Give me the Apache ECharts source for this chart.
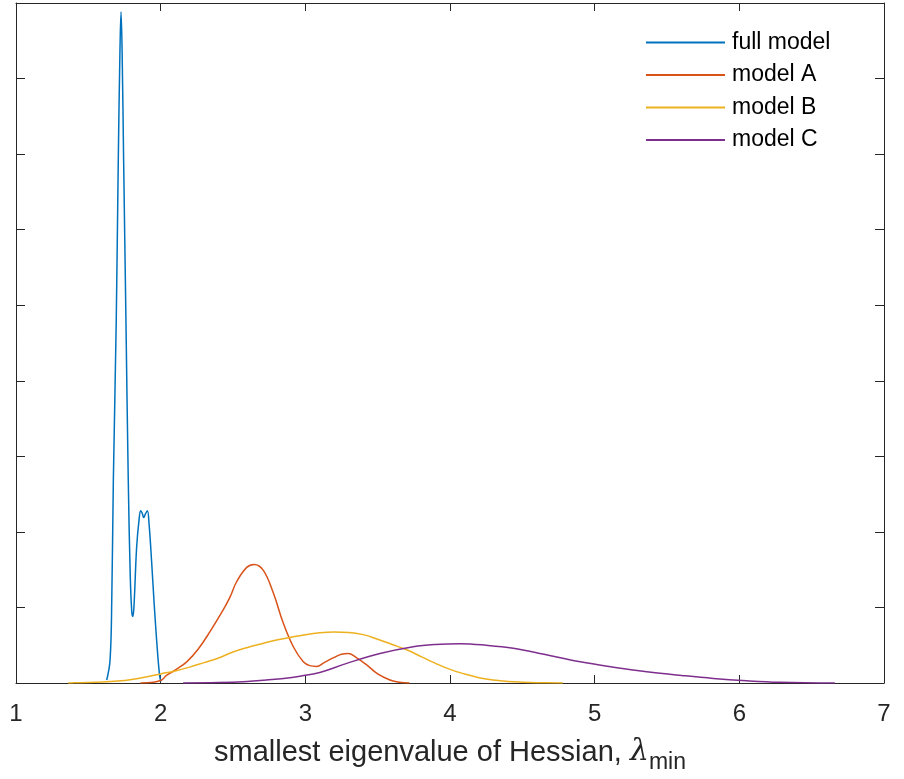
<!DOCTYPE html>
<html>
<head>
<meta charset="utf-8">
<script src="https://cdn.jsdelivr.net/npm/echarts@6/dist/echarts.min.js"></script>
<style>
  html, body { margin: 0; padding: 0; background: #fff; }
  #chart { width: 904px; height: 779px; }
</style>
</head>
<body>
<div id="chart"></div>
<script>
// density curves, [lambda_min, density]
const seriesNames = ['full model', 'model A', 'model B', 'model C']
const seriesColors = ['#0072BD', '#D95319', '#EDB120', '#7E2F8E']

const fullModel = [
  [1.627, 0.04], [1.65, 0.3], [1.662, 1.1], [1.673, 2.69], [1.693, 4.8], [1.707, 6.92],
  [1.718, 8.3], [1.726, 8.88], [1.734, 8.3], [1.744, 6.92], [1.76, 4.8], [1.776, 2.69],
  [1.79, 1.4], [1.8, 0.95], [1.807, 0.88], [1.815, 1.0], [1.834, 1.8], [1.85, 2.15],
  [1.862, 2.28], [1.872, 2.25], [1.883, 2.19], [1.895, 2.24], [1.908, 2.28], [1.92, 2.1],
  [1.938, 1.59], [1.955, 1.05], [1.972, 0.57], [1.985, 0.25], [1.995, 0.07], [2.002, 0.02]
]
const modelA = [
  [1.86, 0.0], [1.95, 0.01], [2.007, 0.04], [2.04, 0.1], [2.1, 0.17], [2.18, 0.28],
  [2.26, 0.45], [2.341, 0.68], [2.433, 0.97], [2.48, 1.14], [2.525, 1.34], [2.595, 1.53],
  [2.647, 1.57], [2.71, 1.49], [2.779, 1.19], [2.848, 0.79], [2.917, 0.48], [2.986, 0.28],
  [3.03, 0.23], [3.078, 0.22], [3.13, 0.27], [3.2, 0.34], [3.25, 0.38], [3.297, 0.39],
  [3.35, 0.34], [3.424, 0.24], [3.5, 0.12], [3.585, 0.04], [3.65, 0.01], [3.72, 0.0]
]
const modelB = [
  [1.36, 0.0], [1.4, 0.002], [1.5, 0.005], [1.6, 0.012], [1.7, 0.025], [1.8, 0.047],
  [1.9, 0.08], [2.0, 0.12], [2.1, 0.16], [2.2, 0.21], [2.3, 0.27], [2.4, 0.33],
  [2.5, 0.41], [2.6, 0.47], [2.7, 0.52], [2.8, 0.57], [2.9, 0.605], [3.0, 0.64],
  [3.1, 0.665], [3.2, 0.675], [3.3, 0.67], [3.4, 0.64], [3.5, 0.58], [3.6, 0.51],
  [3.7, 0.44], [3.8, 0.35], [3.9, 0.26], [4.0, 0.18], [4.1, 0.12], [4.2, 0.07],
  [4.3, 0.04], [4.4, 0.02], [4.5, 0.01], [4.6, 0.004], [4.78, 0.0]
]
const modelC = [
  [2.155, 0.0], [2.4, 0.005], [2.6, 0.02], [2.73, 0.04], [2.85, 0.06], [2.963, 0.09],
  [3.1, 0.14], [3.286, 0.26], [3.516, 0.39], [3.746, 0.48], [3.9, 0.51], [4.069, 0.52],
  [4.25, 0.5], [4.437, 0.46], [4.65, 0.38], [4.9, 0.28], [5.13, 0.21], [5.36, 0.15],
  [5.6, 0.1], [5.82, 0.06], [6.05, 0.03], [6.28, 0.01], [6.66, 0.0]
]
const curves = [fullModel, modelA, modelB, modelC]

const xTicks = [1, 7, 1] // min, max, step
const yTicks = [0, 9, 1]

const axisColor = '#262626'
const font = 'Liberation Sans, Arial, Helvetica, sans-serif'

const chart = echarts.init(document.getElementById('chart'))

// box axes: bottom/left carry labels, top/right only mirror the ticks
function xAxisOf(pos, labels) {
  return {
    type: 'value', position: pos, min: xTicks[0], max: xTicks[1], interval: xTicks[2],
    axisLine: { show: true, onZero: false, lineStyle: { color: axisColor, width: 1 } },
    axisTick: { show: true, inside: true, length: 8, lineStyle: { color: axisColor } },
    axisLabel: { show: labels, color: axisColor, fontSize: 24, fontFamily: font, margin: 19 },
    splitLine: { show: false }
  }
}
function yAxisOf(pos) {
  return {
    type: 'value', position: pos, min: yTicks[0], max: yTicks[1], interval: yTicks[2],
    axisLine: { show: true, onZero: false, lineStyle: { color: axisColor, width: 1 } },
    axisTick: { show: true, inside: true, length: 9, lineStyle: { color: axisColor } },
    axisLabel: { show: false },
    splitLine: { show: false }
  }
}

const bottomAxis = xAxisOf('bottom', true)
bottomAxis.name = '{t|smallest eigenvalue of Hessian, }{l|λ}{s|min}'
bottomAxis.nameLocation = 'middle'
bottomAxis.nameGap = 48
bottomAxis.nameTextStyle = {
  rich: {
    t: { fontSize: 29, fontFamily: font, color: axisColor },
    l: { fontSize: 30, fontFamily: 'DejaVu Serif, serif', fontStyle: 'italic', color: axisColor },
    s: { fontSize: 23, fontFamily: font, color: axisColor, padding: [20, 0, 0, 0] }
  }
}

const option = {
  animation: false,
  backgroundColor: '#fff',
  grid: { left: 16, right: 20, top: 3, bottom: 96, containLabel: false, outerBoundsMode: 'none' },
  legend: {
    orient: 'vertical',
    left: 646,
    top: 31,
    padding: 0,
    itemWidth: 79,
    itemHeight: 2,
    itemGap: 9.5,
    icon: 'rect',
    data: seriesNames,
    textStyle: { fontSize: 23, fontFamily: font, color: '#000', padding: [0, 0, 0, 2] }
  },
  xAxis: [bottomAxis, xAxisOf('top', false)],
  yAxis: [yAxisOf('left'), yAxisOf('right')],
  series: curves.map((pts, i) => ({
    name: seriesNames[i],
    type: 'line',
    xAxisIndex: 0,
    yAxisIndex: 0,
    data: pts,
    showSymbol: false,
    smooth: 0.4,
    color: seriesColors[i],
    lineStyle: { width: 1.5, color: seriesColors[i] }
  }))
}

chart.setOption(option)
</script>
</body>
</html>
